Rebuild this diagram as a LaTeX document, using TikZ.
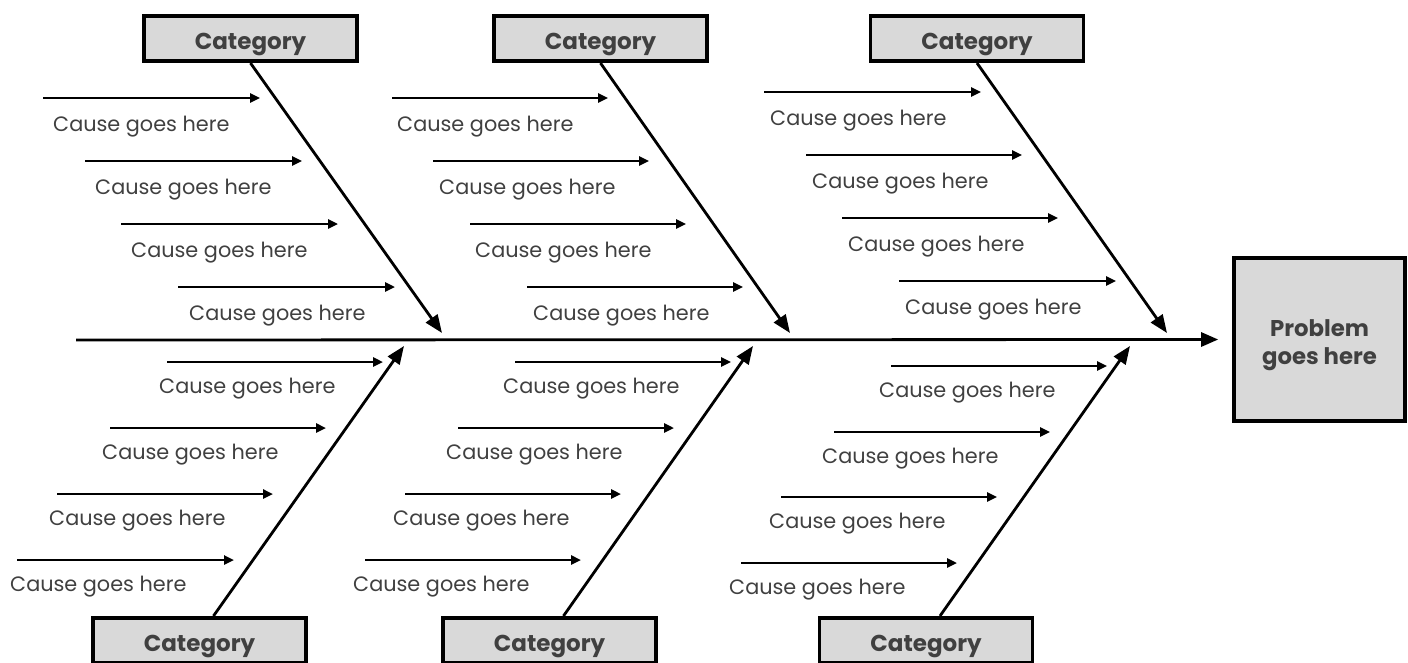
\documentclass[tikz,border=0pt]{standalone}
\usepackage{fontspec}
\setmainfont{Poppins}
\usetikzlibrary{arrows.meta}
\definecolor{boxgray}{HTML}{D9D9D9}
\definecolor{txtgray}{HTML}{404040}
\begin{document}
\begin{tikzpicture}[x=1pt,y=-1pt,
  catbox/.style={draw=black, line width=3.6pt, fill=boxgray, minimum width=213pt, minimum height=45.5pt, inner sep=0pt, text=txtgray, text height=22pt, text depth=1pt, font=\fontsize{23}{26}\selectfont\bfseries},
  probbox/.style={draw=black, line width=3.6pt, fill=boxgray, minimum width=171pt, minimum height=163pt, inner sep=0pt},
  probtext/.style={inner sep=0pt, text=txtgray, align=center, font=\fontsize{22.8}{28}\selectfont\bfseries},
  causetext/.style={anchor=base west, inner sep=0pt, text=txtgray, font=\fontsize{20.8}{22}\selectfont},
  causearrow/.style={line width=2.4pt, -{Triangle[length=10pt,width=9pt]}},
  bone/.style={line width=2.8pt, -{Triangle[length=18pt,width=14pt]}},
  spinearrow/.style={line width=2.8pt, -{Triangle[length=17pt,width=14pt]}}]
\useasboundingbox (0,0) rectangle (1408,662);
\clip (0,0) rectangle (1408,662);

% category boxes
\node[catbox] (T1) at (250.5,38.5) {Category};
\node[catbox] (T2) at (600.5,38.5) {Category};
\node[catbox] (T3) at (977,38.5) {Category};
\node[catbox] (B1) at (199.5,640.5) {Category};
\node[catbox] (B2) at (549.5,640.5) {Category};
\node[catbox] (B3) at (926,640.5) {Category};

% problem box
\node[probbox] (P) at (1319.5,339.5) {};
\node[probtext] (Pt) at (1319.5,345) {Problem\\goes here};

% spine
\coordinate (S0) at (76,340);
\draw[spinearrow] (S0) -- ([xshift=-14pt]P.west);

% bone tips
\coordinate (h1) at (442,333);
\coordinate (h2) at (790,333);
\coordinate (h3) at (1167,333);
\coordinate (k1) at (404,346);
\coordinate (k2) at (753,346);
\coordinate (k3) at (1130,346);

\draw[bone] (T1.south) -- (h1);
\draw[bone] (T2.south) -- (h2);
\draw[bone] (T3.south) -- (h3);
\draw[bone] ([xshift=14pt]B1.north) -- (k1);
\draw[bone] ([xshift=14pt]B2.north) -- (k2);
\draw[bone] ([xshift=14pt]B3.north) -- (k3);

% causes
\foreach \n/\xa/\xb/\ya/\tx/\ty in {
 a1/43/260/98/53/131, a2/85/302/161/95/194, a3/121/338/224/131/257, a4/178/395/287/189/320,
 b1/392/608/98/397/131, b2/433/649/161/439/194, b3/470/686/224/475/257, b4/527/743/287/533/320,
 c1/764/981/92/770/125, c2/806/1022/155/812/188, c3/842/1058/218/848/251, c4/899/1116/281/905/314,
 d1/167/383/362/159/393, d2/110/326/428/102/459, d3/57/273/494/49/525, d4/17/234/560/10/591,
 e1/515/731/362/503/393, e2/458/674/428/446/459, e3/405/621/494/393/525, e4/365/581/560/353/591,
 f1/891/1107/366/879/397, f2/834/1050/432/822/463, f3/781/997/497/769/528, f4/741/957/563/729/594}
{
  \coordinate (s\n) at (\xa,\ya);
  \coordinate (e\n) at (\xb,\ya);
  \draw[causearrow] (s\n) -- (e\n);
  \node[causetext] (t\n) at (\tx,\ty) {Cause goes here};
}
\end{tikzpicture}
\end{document}
